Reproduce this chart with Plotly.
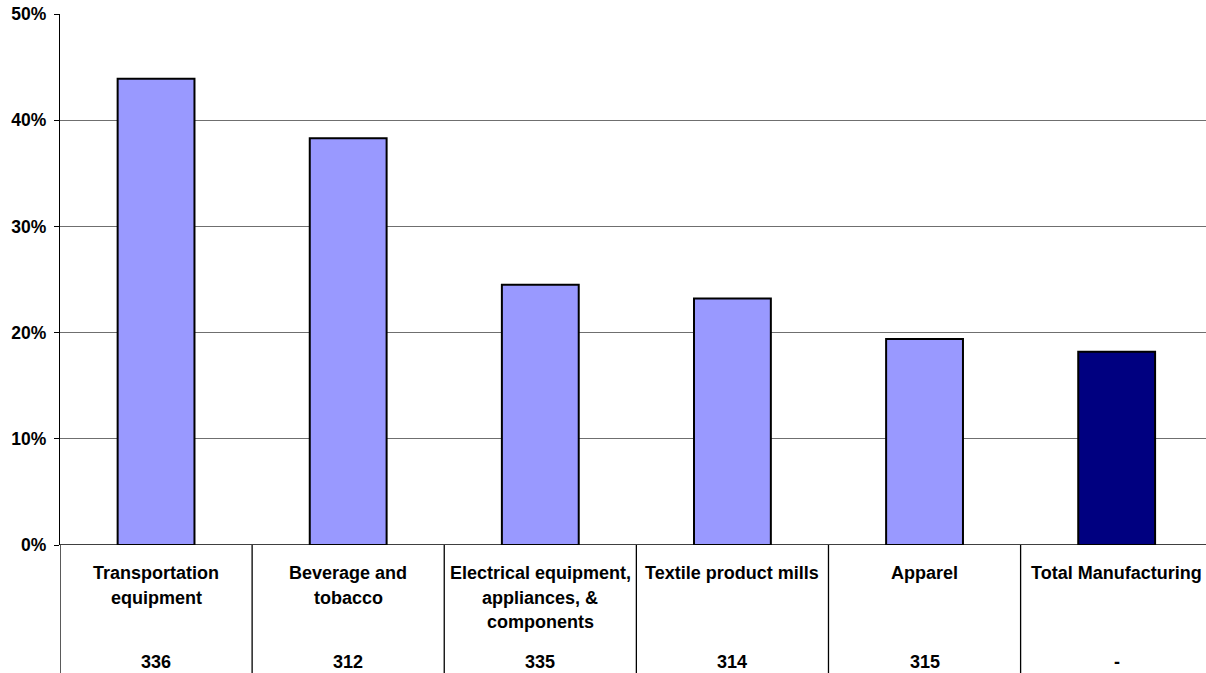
import plotly.graph_objects as go

# Industries (label lines), NAICS codes and shares
categories = [
    ["Transportation", "equipment"],
    ["Beverage and", "tobacco"],
    ["Electrical equipment,", "appliances, &", "components"],
    ["Textile product mills"],
    ["Apparel"],
    ["Total Manufacturing"],
]
naics_codes = ["336", "312", "335", "314", "315", "-"]
shares = [0.439, 0.383, 0.245, 0.232, 0.194, 0.182]
bar_colors = ["#9999FF", "#9999FF", "#9999FF", "#9999FF", "#9999FF", "#000080"]
y_ticks = [0, 0.1, 0.2, 0.3, 0.4, 0.5]
y_tick_text = ["0%", "10%", "20%", "30%", "40%", "50%"]

FONT = "Liberation Sans, Arial, sans-serif"
W, H = 1206, 673
M_L, M_R, M_T, M_B = 60, 0, 14, 128
plot_h = H - M_T - M_B
x_idx = list(range(len(categories)))

fig = go.Figure(
    go.Bar(
        x=x_idx,
        y=shares,
        width=0.4,
        marker=dict(color=bar_colors, line=dict(color="black", width=2)),
        hoverinfo="skip",
    )
)


def paper_y(px_from_top):
    return (H - M_B - px_from_top) / plot_h


annotations = []
line_centers = [573, 597.5, 622]
for i, lines in enumerate(categories):
    for j, txt in enumerate(lines):
        annotations.append(dict(
            x=i, y=paper_y(line_centers[j]), xref="x", yref="paper",
            text=f"<b>{txt}</b>", showarrow=False, yanchor="middle",
            font=dict(family=FONT, size=18, color="black"),
        ))
    annotations.append(dict(
        x=i, y=paper_y(662), xref="x", yref="paper",
        text=f"<b>{naics_codes[i]}</b>", showarrow=False, yanchor="middle",
        font=dict(family=FONT, size=18, color="black"),
    ))

# Table-style separators under the category axis
shapes = []
for i in range(len(categories)):
    shapes.append(dict(
        type="line", xref="x", yref="paper",
        x0=i - 0.5, x1=i - 0.5, y0=0, y1=paper_y(H),
        line=dict(color="black", width=1.3),
    ))
# baseline at 0%
shapes.append(dict(
    type="line", xref="paper", yref="y", x0=0, x1=1, y0=0, y1=0,
    line=dict(color="black", width=1.5),
))

fig.update_layout(
    width=W, height=H,
    margin=dict(l=M_L, r=M_R, t=M_T, b=M_B),
    paper_bgcolor="white", plot_bgcolor="white",
    showlegend=False,
    annotations=annotations,
    shapes=shapes,
    xaxis=dict(
        range=[-0.5, 5.465], showticklabels=False, ticks="",
        showgrid=False, zeroline=False, showline=False, fixedrange=True,
    ),
    yaxis=dict(
        range=[0, 0.5], tickvals=y_ticks,
        ticktext=[f"<b>{t}</b>" for t in y_tick_text],
        ticks="outside", ticklen=5, tickcolor="black", tickwidth=1.3,
        showline=True, linecolor="black", linewidth=1.3,
        showgrid=True, gridcolor="#6f6f6f", gridwidth=1.2,
        zeroline=False, fixedrange=True,
        tickfont=dict(family=FONT, size=17.5, color="black"),
        ticklabelstandoff=4,
    ),
    font=dict(family=FONT),
)

fig.write_html("out.html", config={"displayModeBar": False})
